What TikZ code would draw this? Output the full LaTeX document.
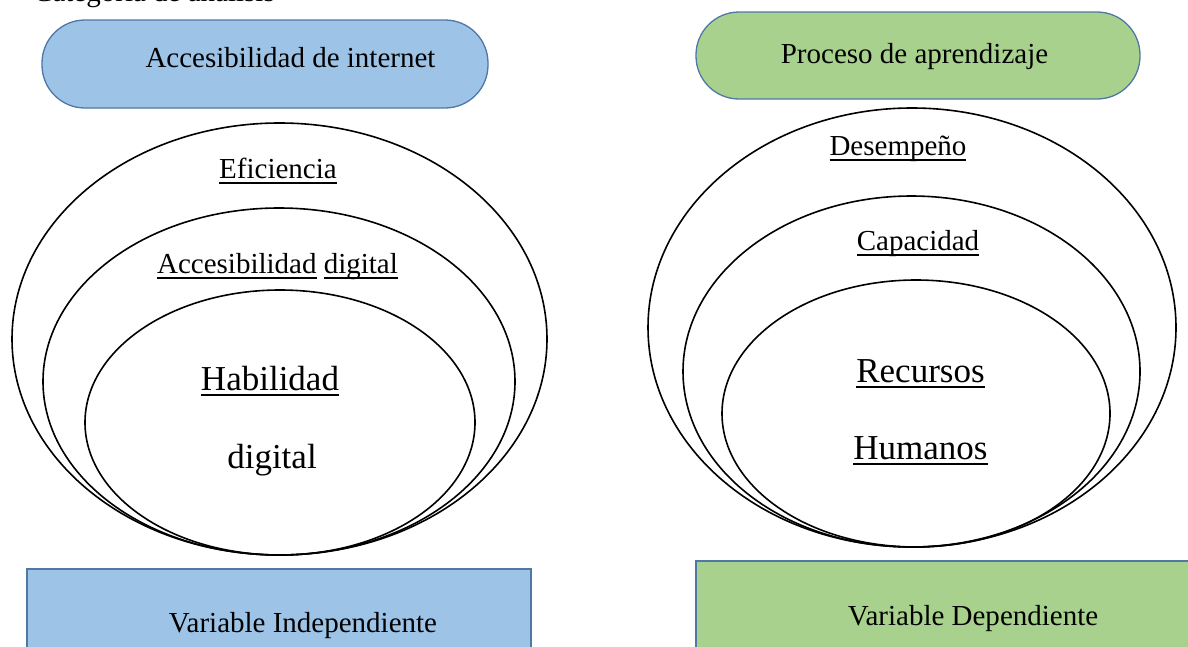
\documentclass[tikz,border=0pt]{standalone}
\usepackage{fontspec}
\setmainfont{Liberation Serif}
\usetikzlibrary{shapes.geometric}
\definecolor{pillblue}{RGB}{157,195,230}
\definecolor{pillgreen}{RGB}{169,209,142}
\definecolor{edgeblue}{RGB}{80,120,165}
\newcommand\ulw[1]{\setbox0\hbox{#1}\rlap{\vrule height -4pt depth 6pt width \wd0}\box0\relax}
\tikzset{
  pill/.style={draw=edgeblue, line width=1.3pt, rounded corners=43pt},
  varbox/.style={draw=edgeblue, line width=1.3pt},
  ring/.style={ellipse, draw=black, line width=1.6pt, inner sep=0pt},
  lbl/.style={anchor=base, inner sep=0pt, font=\fontsize{29}{34}\selectfont},
  biglbl/.style={anchor=base, inner sep=0pt, font=\fontsize{35}{40}\selectfont},
}
\begin{document}
\begin{tikzpicture}[x=1pt,y=-1pt]
\useasboundingbox (0,0) rectangle (1188,646);
\clip (0,0) rectangle (1188,646);
\fill[white] (0,0) rectangle (1188,646);
% partly visible heading
\node[anchor=base west, inner sep=0pt, font=\fontsize{29}{34}\selectfont] (cat) at (33,1) {Categoría de análisis};
% top pills
\filldraw[pill, fill=pillblue] (42,20) rectangle (488,108);
\node[lbl] (acc) at (290.5,67) {Accesibilidad de internet};
\filldraw[pill, fill=pillgreen] (696,12) rectangle (1140,99);
\node[lbl] (proc) at (914.5,63) {Proceso de aprendizaje};
% left rings
\node[ring, minimum width=535pt, minimum height=432pt] (lo) at (279.5,339) {};
\node[ring, minimum width=472pt, minimum height=347pt] (lm) at (279,381.5) {};
\node[ring, minimum width=390pt, minimum height=265pt] (li) at (280,422.5) {};
\node[lbl] (efi) at (278,178) {\ulw{Eficiencia}};
\node[lbl] (accd) at (277.5,273) {\ulw{Accesibilidad} \ulw{digital}};
\node[biglbl] (hab) at (270,390) {\ulw{Habilidad}};
\node[biglbl] (dig) at (272,468) {digital};
% right rings
\node[ring, minimum width=528pt, minimum height=439pt] (ro) at (912,327.5) {};
\node[ring, minimum width=457pt, minimum height=351pt] (rm) at (911.5,371.5) {};
\node[ring, minimum width=388pt, minimum height=267pt] (ri) at (916,413.5) {};
\node[lbl] (des) at (898,155) {\ulw{Desempeño}};
\node[lbl] (cap) at (918,250) {\ulw{Capacidad}};
\node[biglbl] (rec) at (920.5,382) {\ulw{Recursos}};
\node[biglbl] (hum) at (920.5,459) {\ulw{Humanos}};
% bottom boxes
\filldraw[varbox, fill=pillblue] (27,569) rectangle (531,660);
\node[lbl] (vi) at (303,632) {Variable Independiente};
\filldraw[varbox, fill=pillgreen] (696,561) rectangle (1195,660);
\node[lbl] (vd) at (973,625) {Variable Dependiente};
\end{tikzpicture}
\end{document}
